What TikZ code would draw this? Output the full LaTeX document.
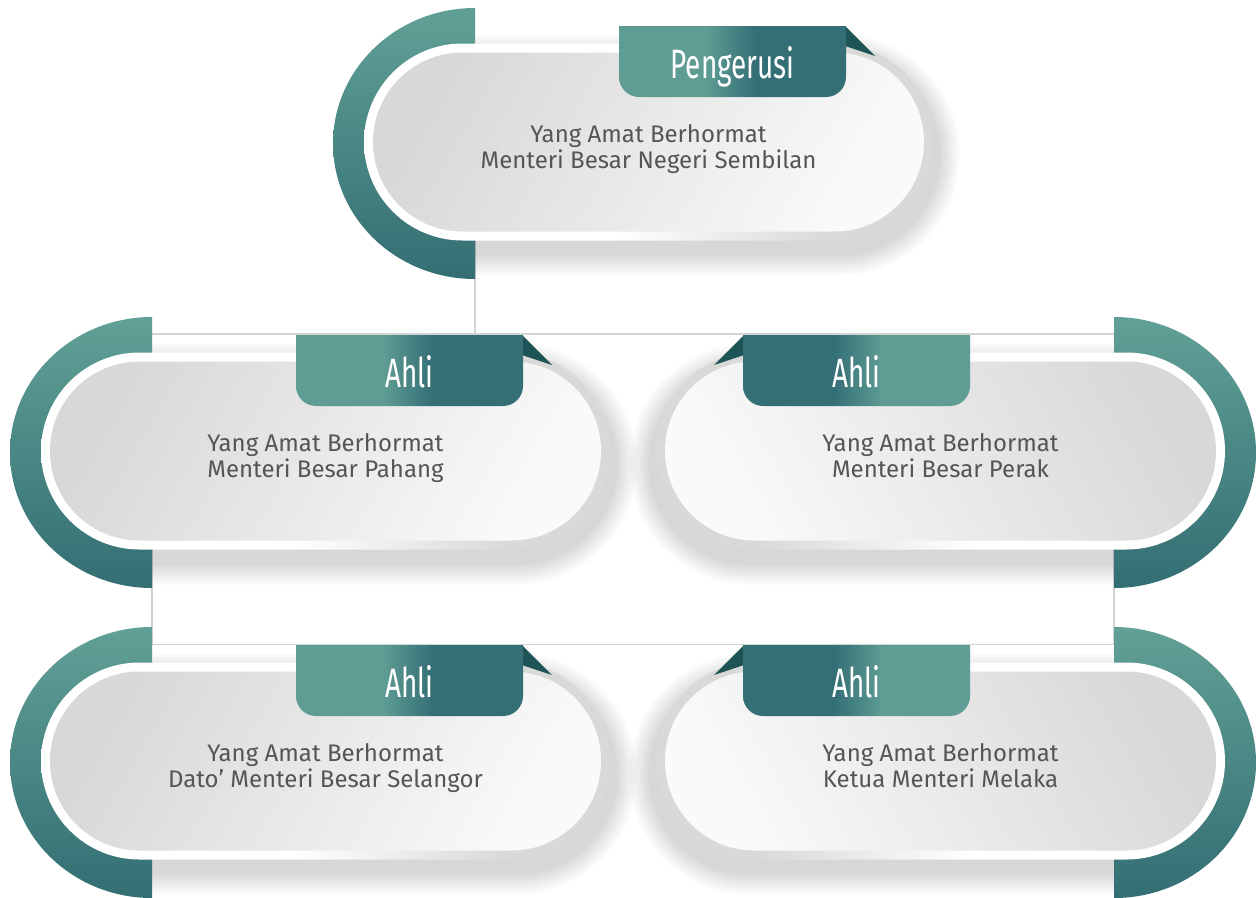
\documentclass[tikz,border=0pt]{standalone}
\usepackage{fontspec}
\setmainfont{Fira Sans}
\newfontfamily\tabfont[FakeStretch=0.68]{Fira Sans}
\definecolor{tlight}{HTML}{5F9D94}
\definecolor{tdark}{HTML}{346F76}
\definecolor{foldc}{HTML}{1F5457}
\definecolor{arctop}{HTML}{61A096}
\definecolor{arcbot}{HTML}{336E73}
\definecolor{rimgray}{HTML}{D9D9D7}
\definecolor{innergray}{HTML}{D8D8D8}
\definecolor{innerlight}{HTML}{FAFAFA}
\definecolor{textgray}{HTML}{555555}
\definecolor{lineg}{HTML}{D3D3D3}
\pgfdeclarehorizontalshading{tabL}{100bp}{color(0bp)=(tlight); color(44bp)=(tlight); color(55bp)=(tdark); color(100bp)=(tdark)}
\pgfdeclarehorizontalshading{tabR}{100bp}{color(0bp)=(tdark); color(45bp)=(tdark); color(56bp)=(tlight); color(100bp)=(tlight)}
\pgfdeclarehorizontalshading{rimL}{100bp}{color(0bp)=(white); color(47bp)=(white); color(66bp)=(rimgray); color(100bp)=(rimgray)}
\pgfdeclarehorizontalshading{rimR}{100bp}{color(0bp)=(rimgray); color(34bp)=(rimgray); color(53bp)=(white); color(100bp)=(white)}
\tikzset{
  conn/.style={draw=lineg, line width=1.5pt},
  tabtext/.style={text=white, font=\tabfont\fontsize{41}{41}\selectfont, inner sep=0pt},
  bodytext/.style={text=textgray, font=\fontsize{24}{26}\selectfont, inner sep=0pt},
  arcshade/.style={top color=arctop, bottom color=arcbot},
  foldshape/.style={fill=foldc}
}
\newcommand\orgcard[7]{%
  \if#3L\def\s{1}\else\def\s{-1}\fi
  \pgfmathsetmacro\cx{#1}\pgfmathsetmacro\cy{#2}
  \pgfmathsetmacro\pa{\cx-\s*111}\pgfmathsetmacro\pb{\cx+\s*458}
  \pgfmathsetmacro\pl{min(\pa,\pb)}\pgfmathsetmacro\pr{max(\pa,\pb)}
  \pgfmathsetmacro\ta{min(\cx+\s*144,\cx+\s*371)}\pgfmathsetmacro\tb{max(\cx+\s*144,\cx+\s*371)}
  % soft shadow
  \foreach \k in {1,...,10}{%
    \pgfmathsetmacro\e{\k*2.2}\pgfmathsetmacro\rr{98.5+\e}
    \fill[black, opacity=0.015, rounded corners=\rr pt]
      ({\pl-\e+\s*5},{\cy-100-\e+13}) rectangle ({\pr+\e+\s*5},{\cy+97+\e+13});
  }
  % half disc
  \shade[arcshade] (\cx,{\cy-135.5}) arc[start angle=90, end angle={90+\s*180}, x radius=142pt, y radius=135.5pt] -- cycle;
  % pill rim and body
  \shade[shading=rim#3, rounded corners=98.5pt] (\pl,{\cy-100}) rectangle (\pr,{\cy+97});
  \shade[top color=innergray, bottom color=innerlight, shading angle={\s*60}, rounded corners=89.5pt]
    ({\pl+9},{\cy-91}) rectangle ({\pr-9},{\cy+88});
  % fold
  \fill[foldshape] ({\cx+\s*370},{\cy-117.5}) -- ({\cx+\s*370},{\cy-97.5}) -- ({\cx+\s*400},{\cy-87.5}) -- cycle;
  % tab
  \shade[shading=tab#3] (\ta,{\cy-117.5}) -- (\ta,{\cy-66.5})
    arc[start angle=180, end angle=270, radius=20pt] -- ({\tb-20},{\cy-46.5})
    arc[start angle=270, end angle=360, radius=20pt] -- (\tb,{\cy-117.5}) -- cycle;
  \node[tabtext, anchor=base] (#7t) at ({\cx+\s*257.5},{\cy-65.5}) {#4};
  \node[bodytext, anchor=base] (#7a) at ({\cx+\s*173.5},{\cy-1.5}) {#5};
  \node[bodytext, anchor=base] (#7b) at ({\cx+\s*173.5},{\cy+24.5}) {#6};
}
\begin{document}
\begin{tikzpicture}[x=1pt, y=-1pt]
\useasboundingbox (0,0) rectangle (1257,897);
\fill[white] (0,0) rectangle (1257,897);
\coordinate (top) at (475,143.5);
\coordinate (ml) at (152,452.5);
\coordinate (mr) at (1114,452.5);
\coordinate (bl) at (152,762.5);
\coordinate (br) at (1114,762.5);
\coordinate (j1) at (475,334);
\coordinate (j2) at (633,644.5);
\draw[conn] (top) -- (j1);
\draw[conn] (ml |- j1) -- (mr |- j1);
\draw[conn] (ml) -- (ml |- j2) -- (mr |- j2) -- (mr);
\orgcard{475}{143.5}{L}{Pengerusi}{Yang Amat Berhormat}{Menteri Besar Negeri Sembilan}{c1}
\orgcard{152}{452.5}{L}{Ahli}{Yang Amat Berhormat}{Menteri Besar Pahang}{c2}
\orgcard{1114}{452.5}{R}{Ahli}{Yang Amat Berhormat}{Menteri Besar Perak}{c3}
\orgcard{152}{762.5}{L}{Ahli}{Yang Amat Berhormat}{Dato’ Menteri Besar Selangor}{c4}
\orgcard{1114}{762.5}{R}{Ahli}{Yang Amat Berhormat}{Ketua Menteri Melaka}{c5}
\end{tikzpicture}
\end{document}
